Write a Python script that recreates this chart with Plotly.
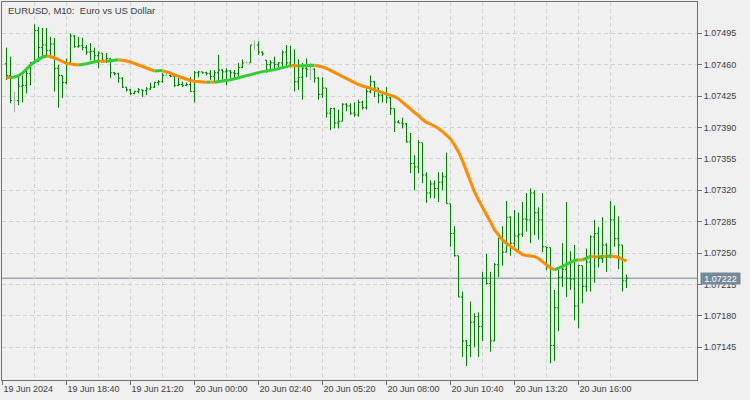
import plotly.graph_objects as go

# ---------------- data (EURUSD, M10) ----------------
bar_index = list(range(1, 157))   # bar 0 = 19 Jun 2024 16:00, 10-minute bars

opens = [1.07461,1.07448,1.07420,1.07420,1.07436,1.07437,1.07450,1.07462,1.07498,1.07479,
         1.07482,1.07476,1.07483,1.07456,1.07448,1.07440,1.07462,1.07492,1.07480,1.07481,
         1.07479,1.07474,1.07475,1.07470,1.07473,1.07465,1.07467,1.07451,1.07450,1.07445,
         1.07435,1.07432,1.07428,1.07430,1.07432,1.07431,1.07433,1.07435,1.07440,1.07441,
         1.07448,1.07448,1.07447,1.07437,1.07438,1.07437,1.07438,1.07430,1.07451,1.07452,
         1.07451,1.07450,1.07447,1.07451,1.07454,1.07452,1.07453,1.07451,1.07450,1.07457,
         1.07462,1.07462,1.07482,1.07482,1.07474,1.07465,1.07460,1.07462,1.07460,1.07462,
         1.07474,1.07462,1.07460,1.07441,1.07446,1.07456,1.07455,1.07455,1.07445,1.07427,
         1.07434,1.07406,1.07411,1.07395,1.07397,1.07416,1.07414,1.07406,1.07404,1.07418,
         1.07412,1.07430,1.07441,1.07434,1.07426,1.07428,1.07423,1.07411,1.07396,1.07395,
         1.07394,1.07374,1.07350,1.07346,1.07373,1.07337,1.07317,1.07327,1.07322,1.07329,
         1.07335,1.07305,1.07272,1.07247,1.07201,1.07152,1.07147,1.07173,1.07179,1.07168,
         1.07222,1.07216,1.07152,1.07237,1.07267,1.07251,1.07290,1.07261,1.07269,1.07271,
         1.07288,1.07287,1.07317,1.07295,1.07287,1.07257,1.07256,1.07147,1.07189,1.07223,
         1.07232,1.07222,1.07221,1.07191,1.07236,1.07213,1.07240,1.07268,1.07272,1.07244,
         1.07259,1.07246,1.07287,1.07266,1.07259,1.07219]

highs = [1.07479,1.07469,1.07430,1.07448,1.07448,1.07457,1.07463,1.07505,1.07502,1.07501,
         1.07501,1.07491,1.07490,1.07460,1.07448,1.07467,1.07495,1.07493,1.07491,1.07490,
         1.07482,1.07484,1.07479,1.07475,1.07473,1.07473,1.07467,1.07452,1.07451,1.07446,
         1.07435,1.07433,1.07431,1.07434,1.07432,1.07435,1.07440,1.07441,1.07443,1.07451,
         1.07451,1.07451,1.07450,1.07447,1.07441,1.07440,1.07446,1.07453,1.07453,1.07452,
         1.07452,1.07454,1.07454,1.07471,1.07455,1.07456,1.07454,1.07454,1.07462,1.07466,
         1.07464,1.07482,1.07487,1.07486,1.07475,1.07465,1.07465,1.07469,1.07463,1.07476,
         1.07482,1.07481,1.07477,1.07466,1.07462,1.07467,1.07462,1.07456,1.07446,1.07446,
         1.07434,1.07412,1.07412,1.07410,1.07417,1.07417,1.07417,1.07418,1.07421,1.07420,
         1.07434,1.07448,1.07442,1.07434,1.07431,1.07435,1.07424,1.07411,1.07398,1.07401,
         1.07395,1.07384,1.07359,1.07376,1.07373,1.07340,1.07331,1.07331,1.07340,1.07340,
         1.07362,1.07305,1.07280,1.07247,1.07207,1.07153,1.07196,1.07183,1.07184,1.07229,
         1.07249,1.07229,1.07239,1.07267,1.07280,1.07308,1.07291,1.07298,1.07295,1.07307,
         1.07317,1.07322,1.07320,1.07301,1.07317,1.07257,1.07256,1.07209,1.07231,1.07261,
         1.07307,1.07252,1.07259,1.07237,1.07236,1.07255,1.07270,1.07287,1.07279,1.07290,
         1.07261,1.07308,1.07303,1.07291,1.07259,1.07226]

lows = [1.07443,1.07417,1.07407,1.07415,1.07418,1.07428,1.07437,1.07461,1.07463,1.07467,
        1.07469,1.07467,1.07430,1.07412,1.07423,1.07438,1.07460,1.07479,1.07479,1.07476,
        1.07471,1.07465,1.07463,1.07456,1.07462,1.07462,1.07445,1.07448,1.07440,1.07434,
        1.07430,1.07426,1.07427,1.07428,1.07424,1.07426,1.07432,1.07434,1.07437,1.07440,
        1.07447,1.07446,1.07435,1.07436,1.07435,1.07436,1.07430,1.07418,1.07446,1.07450,
        1.07448,1.07443,1.07441,1.07443,1.07443,1.07437,1.07445,1.07446,1.07446,1.07456,
        1.07461,1.07462,1.07476,1.07471,1.07470,1.07451,1.07454,1.07454,1.07457,1.07457,
        1.07457,1.07457,1.07430,1.07432,1.07421,1.07446,1.07443,1.07440,1.07421,1.07423,
        1.07401,1.07387,1.07389,1.07389,1.07397,1.07408,1.07404,1.07402,1.07402,1.07410,
        1.07410,1.07428,1.07424,1.07417,1.07418,1.07417,1.07404,1.07385,1.07395,1.07389,
        1.07373,1.07339,1.07320,1.07339,1.07328,1.07306,1.07311,1.07311,1.07307,1.07320,
        1.07305,1.07257,1.07246,1.07201,1.07134,1.07124,1.07134,1.07145,1.07134,1.07152,
        1.07215,1.07140,1.07152,1.07223,1.07236,1.07251,1.07247,1.07257,1.07253,1.07268,
        1.07274,1.07261,1.07270,1.07265,1.07251,1.07231,1.07127,1.07130,1.07163,1.07212,
        1.07201,1.07209,1.07175,1.07166,1.07194,1.07207,1.07207,1.07217,1.07234,1.07239,
        1.07229,1.07244,1.07257,1.07232,1.07207,1.07211]

closes = [1.07448,1.07420,1.07420,1.07436,1.07437,1.07450,1.07462,1.07498,1.07479,1.07482,
          1.07476,1.07483,1.07456,1.07448,1.07440,1.07462,1.07492,1.07480,1.07481,1.07479,
          1.07474,1.07475,1.07470,1.07473,1.07465,1.07467,1.07451,1.07450,1.07445,1.07435,
          1.07432,1.07428,1.07430,1.07432,1.07431,1.07433,1.07435,1.07440,1.07441,1.07448,
          1.07448,1.07447,1.07437,1.07438,1.07437,1.07438,1.07430,1.07451,1.07452,1.07451,
          1.07450,1.07447,1.07451,1.07454,1.07452,1.07453,1.07451,1.07450,1.07457,1.07462,
          1.07462,1.07482,1.07482,1.07474,1.07472,1.07460,1.07462,1.07460,1.07462,1.07474,
          1.07462,1.07460,1.07441,1.07446,1.07456,1.07455,1.07455,1.07445,1.07427,1.07434,
          1.07406,1.07411,1.07395,1.07397,1.07416,1.07414,1.07406,1.07404,1.07418,1.07412,
          1.07430,1.07441,1.07434,1.07426,1.07428,1.07423,1.07411,1.07396,1.07395,1.07394,
          1.07374,1.07350,1.07346,1.07373,1.07337,1.07317,1.07327,1.07322,1.07329,1.07335,
          1.07305,1.07272,1.07247,1.07201,1.07152,1.07147,1.07173,1.07179,1.07168,1.07222,
          1.07216,1.07152,1.07237,1.07267,1.07251,1.07290,1.07261,1.07269,1.07271,1.07288,
          1.07287,1.07317,1.07295,1.07287,1.07257,1.07256,1.07147,1.07189,1.07223,1.07232,
          1.07222,1.07221,1.07191,1.07236,1.07213,1.07240,1.07268,1.07272,1.07244,1.07259,
          1.07246,1.07287,1.07266,1.07259,1.07219,1.07222]

ma_values = [1.074457,1.074456,1.074463,1.074479,1.074507,1.074552,1.074597,1.074630,1.074663,1.074686,
             1.074697,1.074691,1.074675,1.074652,1.074630,1.074615,1.074608,1.074602,1.074597,1.074602,
             1.074610,1.074622,1.074630,1.074641,1.074640,1.074639,1.074647,1.074652,1.074656,1.074652,
             1.074641,1.074630,1.074613,1.074591,1.074574,1.074558,1.074539,1.074530,1.074532,1.074534,
             1.074523,1.074507,1.074485,1.074468,1.074452,1.074435,1.074424,1.074416,1.074410,1.074407,
             1.074404,1.074406,1.074405,1.074410,1.074416,1.074423,1.074432,1.074443,1.074455,1.074468,
             1.074482,1.074493,1.074503,1.074513,1.074523,1.074530,1.074535,1.074545,1.074556,1.074566,
             1.074579,1.074590,1.074588,1.074586,1.074589,1.074592,1.074593,1.074594,1.074585,1.074574,
             1.074558,1.074535,1.074513,1.074491,1.074468,1.074446,1.074424,1.074396,1.074379,1.074362,
             1.074351,1.074337,1.074320,1.074305,1.074290,1.074276,1.074262,1.074245,1.074218,1.074184,
             1.074145,1.074106,1.074067,1.074034,1.073989,1.073956,1.073939,1.073917,1.073889,1.073855,
             1.073816,1.073772,1.073705,1.073627,1.073527,1.073415,1.073292,1.073181,1.073092,1.073014,
             1.072941,1.072847,1.072757,1.072702,1.072646,1.072607,1.072574,1.072540,1.072507,1.072484,
             1.072473,1.072468,1.072462,1.072440,1.072406,1.072367,1.072334,1.072312,1.072328,1.072351,
             1.072373,1.072395,1.072418,1.072425,1.072423,1.072440,1.072462,1.072459,1.072457,1.072462,
             1.072461,1.072468,1.072464,1.072454,1.072429,1.072412]

time_tick_index = [0, 16, 32, 48, 64, 80, 96, 112, 128, 144]
time_tick_labels = ["19 Jun 2024", "19 Jun 18:40", "19 Jun 21:20", "20 Jun 00:00", "20 Jun 02:40",
                    "20 Jun 05:20", "20 Jun 08:00", "20 Jun 10:40", "20 Jun 13:20", "20 Jun 16:00"]
price_ticks = [1.07145, 1.07180, 1.07215, 1.07250, 1.07285, 1.07320, 1.07355,
               1.07390, 1.07425, 1.07460, 1.07495]
last_price = 1.07222
title_text = "EURUSD, M10:\u00a0\u00a0Euro vs US Dollar"

# ---------------- styles ----------------
BG = "#f0f0f0"
GRID = "#d4d4d4"
FRAME = "#707070"
TEXT = "#404040"
BAR_GREEN = "#008000"
DOJI_GRAY = "#a8a8a8"
MA_UP = "#32cd32"
MA_DOWN = "#ff8c00"
PRICE_LINE = "#778899"
FONT = "Liberation Sans, Arial, sans-serif"

fig = go.Figure()

normal = [k for k in range(len(bar_index)) if opens[k] != closes[k]]
doji = [k for k in range(len(bar_index)) if opens[k] == closes[k]]

def pick(arr, idx):
    return [arr[k] for k in idx]

fig.add_trace(go.Ohlc(
    x=pick(bar_index, normal), open=pick(opens, normal), high=pick(highs, normal),
    low=pick(lows, normal), close=pick(closes, normal),
    increasing=dict(line=dict(color=BAR_GREEN, width=1)),
    decreasing=dict(line=dict(color=BAR_GREEN, width=1)),
    tickwidth=0.4, hoverinfo="skip", showlegend=False))

if doji:
    dx = pick(bar_index, doji)
    mind = min([b - a for a, b in zip(dx[:-1], dx[1:])] or [1])
    fig.add_trace(go.Ohlc(
        x=dx, open=pick(opens, doji), high=pick(highs, doji),
        low=pick(lows, doji), close=pick(closes, doji),
        increasing=dict(line=dict(color=DOJI_GRAY, width=1)),
        decreasing=dict(line=dict(color=DOJI_GRAY, width=1)),
        tickwidth=min(0.5, 0.4 / mind), hoverinfo="skip", showlegend=False))

# moving average, coloured by direction
seg_col = []
prev = MA_UP
for k in range(1, len(ma_values)):
    if ma_values[k] > ma_values[k - 1]:
        prev = MA_UP
    elif ma_values[k] < ma_values[k - 1]:
        prev = MA_DOWN
    seg_col.append(prev)

start = 0
while start < len(seg_col):
    end = start
    while end + 1 < len(seg_col) and seg_col[end + 1] == seg_col[start]:
        end += 1
    xs = bar_index[start:end + 2]
    ys = ma_values[start:end + 2]
    fig.add_trace(go.Scatter(x=xs, y=ys, mode="lines",
                             line=dict(color=seg_col[start], width=3),
                             hoverinfo="skip", showlegend=False))
    start = end + 1

# current price line + label
fig.add_shape(type="line", xref="paper", x0=0, x1=1, yref="y", y0=last_price, y1=last_price,
              line=dict(color=PRICE_LINE, width=1), layer="below")
fig.add_annotation(xref="paper", x=1, xanchor="left", xshift=3, yref="y", y=last_price,
                   yanchor="middle", text=f"{last_price:.5f}", showarrow=False,
                   bgcolor=PRICE_LINE, font=dict(color="white", size=9, family=FONT),
                   width=37, height=9, borderpad=1)

fig.add_annotation(xref="paper", x=0, xanchor="left", xshift=4, yref="paper", y=1,
                   yanchor="top", yshift=-1, text=title_text, showarrow=False,
                   font=dict(color=TEXT, size=9.5, family=FONT))

fig.update_layout(
    width=750, height=400,
    margin=dict(l=2, r=53, t=2, b=20),
    paper_bgcolor=BG, plot_bgcolor=BG,
    font=dict(family=FONT, size=9, color=TEXT),
    showlegend=False,
    xaxis=dict(range=[-0.125, 173.625], tickmode="array", tickvals=time_tick_index,
               ticktext=time_tick_labels, ticks="outside", ticklen=4, tickcolor=FRAME,
               ticklabelposition="outside right",
               showgrid=True, gridcolor=GRID, griddash="4px,3px", gridwidth=1,
               minor=dict(tickmode="array", tickvals=[v + 8 for v in time_tick_index],
                          showgrid=True, gridcolor=GRID, griddash="4px,3px", ticks=""),
               showline=True, mirror=True, linecolor=FRAME, linewidth=1,
               zeroline=False, rangeslider=dict(visible=False), automargin=False,
               fixedrange=True),
    yaxis=dict(side="right", range=[1.071085, 1.075299], tickmode="array",
               tickvals=price_ticks, tickformat=".5f", ticks="outside", ticklen=4,
               tickcolor=FRAME, showgrid=True, gridcolor=GRID, griddash="4px,3px",
               showline=True, mirror=True, linecolor=FRAME, linewidth=1,
               zeroline=False, automargin=False, fixedrange=True),
)

fig.write_html("out.html", config={"displayModeBar": False},
               post_script="document.body.style.margin='0';document.body.style.overflow='hidden';")
